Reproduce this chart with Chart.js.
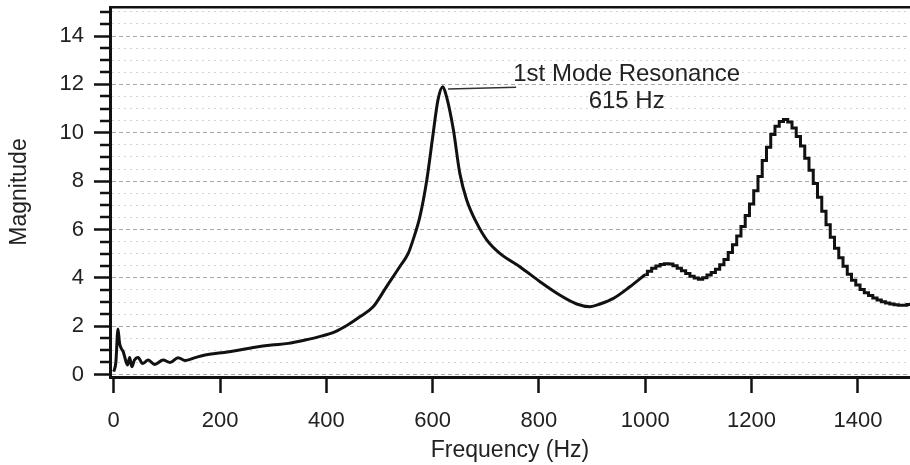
<!DOCTYPE html>
<html>
<head>
<meta charset="utf-8">
<script src="https://cdn.jsdelivr.net/npm/chart.js@4.4.1/dist/chart.umd.min.js"></script>
<style>
  html, body { margin: 0; padding: 0; background: #fff; }
  #wrap { width: 910px; height: 465px; position: relative; }
</style>
</head>
<body>
<div id="wrap"><canvas id="chart"></canvas></div>
<script>
// Smooth part of the response (Hz / magnitude)
const freqHz = [0, 4, 8, 11, 14, 18, 22, 26, 30, 34, 39, 46, 54, 65, 77, 93, 106, 121, 134, 153, 172, 203,
    234, 266, 297, 328, 360, 385, 416, 440, 463, 488, 513, 538, 554, 563, 576, 589, 601, 610, 619, 626,
    639, 651, 664, 683, 702, 727, 764, 802, 839, 871, 896, 915, 940, 971, 1000];
const magnitude = [0.12, 0.5, 1.88, 1.3, 1.09, 0.94, 0.62, 0.4, 0.71, 0.32, 0.6, 0.71, 0.46, 0.6, 0.42, 0.6,
    0.5, 0.7, 0.58, 0.7, 0.81, 0.9, 1.01, 1.13, 1.22, 1.29, 1.43, 1.56, 1.77, 2.05, 2.39, 2.8, 3.63, 4.46,
    5.01, 5.56, 6.53, 8.05, 9.98, 11.36, 11.9, 11.5, 10.12, 8.33, 7.22, 6.26, 5.56, 5.0, 4.46, 3.84, 3.29,
    2.92, 2.81, 2.92, 3.15, 3.63, 4.14];

// Upper band, drawn as a staircase in the original
const stepFreqHz = [1000, 1008, 1016, 1024, 1032, 1040, 1048, 1056, 1064, 1072, 1080, 1088, 1096, 1104,
    1112, 1120, 1128, 1136, 1144, 1152, 1160, 1168, 1176, 1184, 1192, 1200, 1208, 1216, 1224, 1232, 1240,
    1248, 1256, 1264, 1272, 1280, 1288, 1296, 1304, 1312, 1320, 1328, 1336, 1344, 1352, 1360, 1368, 1376,
    1384, 1392, 1400, 1408, 1416, 1424, 1432, 1440, 1448, 1456, 1464, 1472, 1480, 1488, 1496, 1504];
const stepMagnitude = [4.14, 4.27, 4.4, 4.49, 4.55, 4.58, 4.57, 4.5, 4.4, 4.29, 4.18, 4.07, 3.99, 3.94,
    4.0, 4.12, 4.22, 4.36, 4.54, 4.76, 5.05, 5.37, 5.73, 6.12, 6.58, 7.05, 7.6, 8.19, 8.85, 9.4, 9.93,
    10.27, 10.47, 10.55, 10.44, 10.2, 9.85, 9.45, 8.95, 8.45, 7.9, 7.33, 6.75, 6.2, 5.68, 5.22, 4.83, 4.48,
    4.15, 3.9, 3.7, 3.52, 3.38, 3.27, 3.17, 3.08, 3.01, 2.96, 2.92, 2.89, 2.87, 2.87, 2.9, 2.92];

// Axis ticks
const xTicks = [0, 200, 400, 600, 800, 1000, 1200, 1400];
const yMajorTicks = [0, 2, 4, 6, 8, 10, 12, 14];
const yGridTicks = [0, 0.5, 1, 1.5, 2, 2.5, 3, 3.5, 4, 4.5, 5, 5.5, 6, 6.5, 7, 7.5, 8, 8.5, 9, 9.5,
    10, 10.5, 11, 11.5, 12, 12.5, 13, 13.5, 14, 14.5, 15];

// Annotation: leader line from the peak, and its label
const leaderFreq = [629, 757];
const leaderMag = [11.81, 11.88];
const annotationText = ['1st Mode Resonance', '615 Hz'];
const annotationAt = [965, 12.15];

const INK = '#111';
const FONT = "'Liberation Sans', Arial, Helvetica, sans-serif";
Chart.defaults.font.family = FONT;
Chart.defaults.color = '#222';

const isMajor = v => yMajorTicks.includes(v);

// minor tick marks on the y axis + annotation text
const decorations = {
    id: 'decorations',
    afterDraw(chart) {
        const { ctx, chartArea, scales: { x, y } } = chart;
        ctx.save();
        ctx.strokeStyle = INK;
        ctx.lineWidth = 2.5;
        ctx.beginPath();
        yGridTicks.filter(v => !isMajor(v)).forEach(v => {
            const py = Math.round(y.getPixelForValue(v));
            ctx.moveTo(chartArea.left - 10, py);
            ctx.lineTo(chartArea.left, py);
        });
        ctx.stroke();

        ctx.fillStyle = '#222';
        ctx.font = '24px ' + FONT;
        ctx.textAlign = 'center';
        ctx.textBaseline = 'alphabetic';
        const ax = x.getPixelForValue(annotationAt[0]);
        const ay = y.getPixelForValue(annotationAt[1]);
        annotationText.forEach((t, i) => ctx.fillText(t, ax, ay + i * 27));
        ctx.restore();
    }
};

new Chart(document.getElementById('chart'), {
    type: 'line',
    data: {
        datasets: [
            {
                data: freqHz.map((f, i) => ({ x: f, y: magnitude[i] })),
                borderColor: INK,
                borderWidth: 3,
                pointRadius: 0,
                cubicInterpolationMode: 'monotone'
            },
            {
                data: stepFreqHz.map((f, i) => ({ x: f, y: stepMagnitude[i] })),
                borderColor: INK,
                borderWidth: 3,
                pointRadius: 0,
                stepped: 'middle'
            },
            {
                data: leaderFreq.map((f, i) => ({ x: f, y: leaderMag[i] })),
                borderColor: '#333',
                borderWidth: 1.5,
                pointRadius: 0
            }
        ]
    },
    options: {
        responsive: true,
        maintainAspectRatio: false,
        animation: false,
        layout: { padding: { top: 7, right: 0, bottom: 0, left: 0 } },
        plugins: { legend: { display: false }, tooltip: { enabled: false } },
        scales: {
            x: {
                type: 'linear',
                position: 'bottom',
                min: -7,
                max: 1498,
                afterBuildTicks: s => { s.ticks = xTicks.map(v => ({ value: v })); },
                afterFit: s => { s.height = 88; s.paddingLeft = 0; s.paddingRight = 0; },
                ticks: {
                    autoSkip: false, maxRotation: 0, padding: 15, color: '#222', font: { size: 22 },
                    callback: v => String(v)
                },
                grid: { drawOnChartArea: false, drawTicks: true, tickLength: 16, tickColor: INK, tickWidth: 2.5 },
                border: { display: true, color: INK, width: 3 },
                title: {
                    display: true, text: 'Frequency (Hz)', color: '#222',
                    font: { size: 23 }, padding: { top: 0, bottom: 1 }
                }
            },
            xTop: {
                type: 'linear',
                position: 'top',
                min: -7,
                max: 1498,
                afterFit: s => { s.height = 0; s.paddingLeft = 0; s.paddingRight = 0; },
                ticks: { display: false },
                grid: { display: false, drawTicks: false },
                border: { display: true, color: INK, width: 2.5 }
            },
            y: {
                type: 'linear',
                min: -0.1,
                max: 15.2,
                afterBuildTicks: s => { s.ticks = yGridTicks.map(v => ({ value: v })); },
                afterFit: s => { s.width = 110; s.paddingTop = 0; s.paddingBottom = 0; },
                ticks: {
                    autoSkip: false,
                    padding: 10,
                    color: '#222',
                    font: { size: 22 },
                    callback: v => isMajor(v) ? String(v) : ''
                },
                grid: {
                    drawOnChartArea: true,
                    tickLength: 16,
                    lineWidth: 1,
                    color: c => (c.tick && isMajor(c.tick.value)) ? '#a8a8a8' : '#d2d2d2',
                    tickColor: c => (c.tick && isMajor(c.tick.value)) ? INK : 'rgba(0,0,0,0)',
                    tickWidth: 2.5
                },
                border: {
                    display: true, color: INK, width: 3,
                    dash: c => (c.tick && isMajor(c.tick.value)) ? [4, 3] : [2, 4]
                },
                title: {
                    display: true, text: 'Magnitude', color: '#222',
                    font: { size: 23 }, padding: { top: 6, bottom: 10 }
                }
            }
        }
    },
    plugins: [decorations]
});
</script>
</body>
</html>
